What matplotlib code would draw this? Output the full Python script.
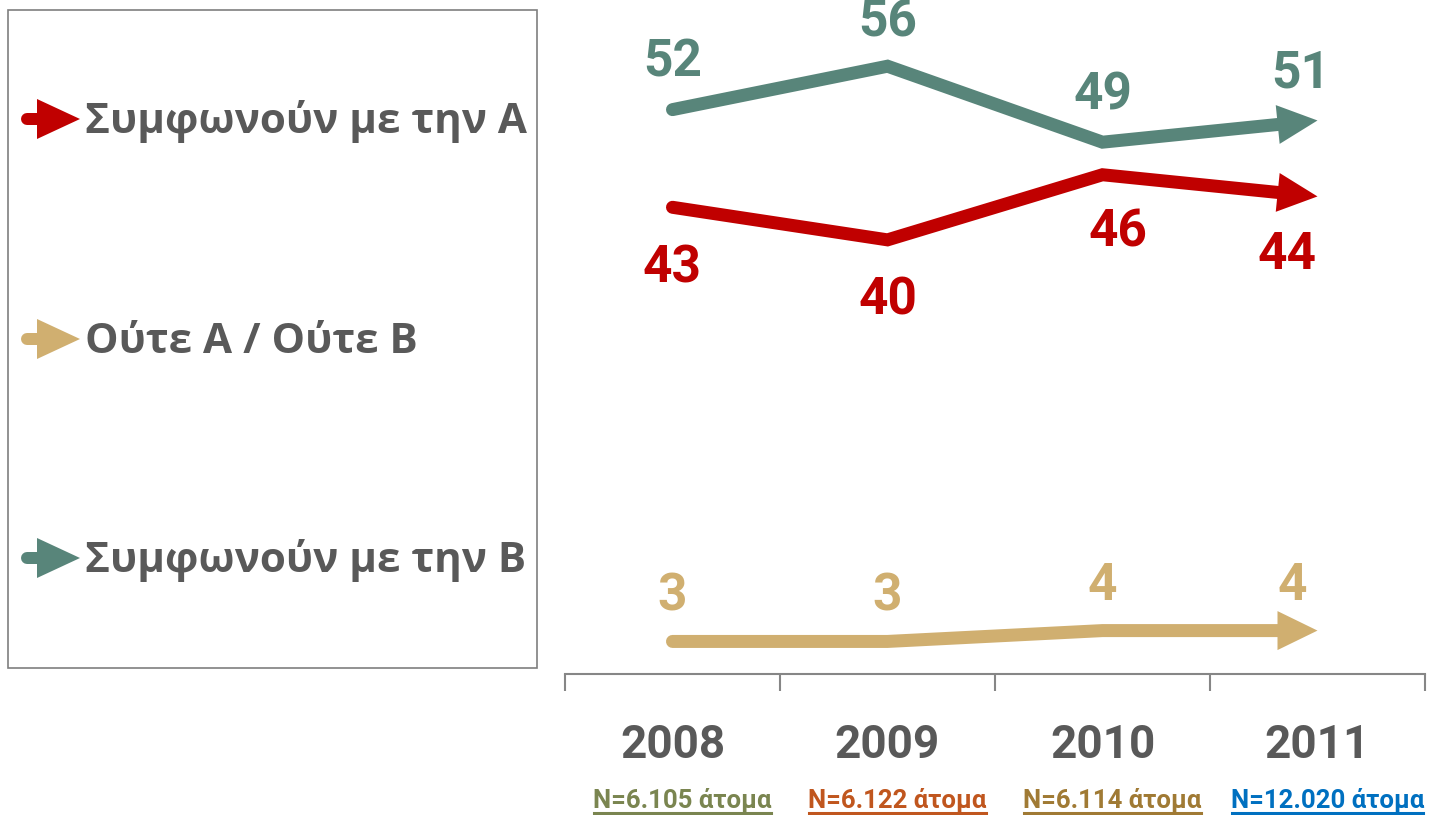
import matplotlib
matplotlib.use('Agg')
import matplotlib.pyplot as plt
from matplotlib.patches import Polygon, Rectangle
from matplotlib.lines import Line2D
import numpy as np


# Data
years = ['2008', '2009', '2010', '2011']
sample_sizes = ['N=6.105 άτομα', 'N=6.122 άτομα', 'N=6.114 άτομα', 'N=12.020 άτομα']
sample_colors = ['#7A8550', '#C0561E', '#A07A34', '#0070C0']

agree_a = [43, 40, 46, 44]
neither = [3, 3, 4, 4]
agree_b = [52, 56, 49, 51]

series_names = ['Συμφωνούν με την Α', 'Ούτε Α / Ούτε Β', 'Συμφωνούν με την Β']
series_colors = ['#C00000', '#D0AF70', '#58857A']

# Figure size (pixels)
W, H = 1429, 815
text_gray = '#595959'
num_font = ['Roboto', 'DejaVu Sans']
leg_font = ['Open Sans', 'DejaVu Sans']


def fig_xy(x, y):
    # pixel position (from top-left) -> figure fraction
    return x / W, 1 - y / H


fig = plt.figure(figsize=(W / 100, H / 100), dpi=100)

# Main axes: x from 565 to 1425 px, y axis line at 674 px
ax = fig.add_axes([565 / W, (H - 674) / H, 860 / W, 674 / H])
ax.set_xlim(-0.5, 3.5)
ax.set_ylim(0, 62.1)
for s in ['top', 'left', 'right']:
    ax.spines[s].set_visible(False)
ax.spines['bottom'].set_color('#868686')
ax.spines['bottom'].set_linewidth(1.5)
ax.set_yticks([])
ax.set_xticks(np.arange(-0.5, 4, 1))
ax.set_xticklabels([])
ax.tick_params(axis='x', direction='out', length=12, width=1.5, color='#868686')
ax.patch.set_visible(False)

x = np.arange(len(years))
lw_px = 13
head_len = 40
head_w = 39

for vals, color in [(agree_b, series_colors[2]), (agree_a, series_colors[0]), (neither, series_colors[1])]:
    pts = ax.transData.transform(np.column_stack([x, vals]))
    tip = pts[-1]
    d = pts[-1] - pts[-2]
    d = d / np.hypot(*d)
    n = np.array([-d[1], d[0]])
    base = tip - d * head_len
    shaft_end = tip - d * head_len * 0.6
    inv = ax.transData.inverted()
    se = inv.transform(shaft_end)
    ax.plot(list(x[:-1]) + [se[0]], list(vals[:-1]) + [se[1]], color=color,
            lw=lw_px * 0.72, solid_capstyle='round', solid_joinstyle='miter', clip_on=False)
    head = inv.transform(np.array([tip, base + n * head_w / 2, base - n * head_w / 2]))
    ax.add_patch(Polygon(head, closed=True, facecolor=color, edgecolor='none', clip_on=False))

# Data labels (pixel offsets of the baseline)
label_specs = [
    (agree_b, series_colors[2], [33, 30, 33, 33], [0, 0, 0, -17]),
    (agree_a, series_colors[0], [-75, -75, -72, -73], [0, 0, 15, -30]),
    (neither, series_colors[1], [31, 31, 31, 31], [0, 0, 0, -25]),
]
for vals, color, dys, dxs in label_specs:
    for i, v in enumerate(vals):
        ax.annotate(str(v), xy=(i, v), xytext=(dxs[i], dys[i]), textcoords='offset pixels',
                    ha='center', va='baseline', fontsize=37, fontweight='bold',
                    color=color, family=num_font, annotation_clip=False)

# Year labels and sample sizes
n_texts = []
for i, yr in enumerate(years):
    ax.annotate(yr, xy=(i, 0), xycoords=('data', 'axes fraction'), xytext=(0, -84),
                textcoords='offset pixels', ha='center', va='baseline', fontsize=33,
                fontweight='bold', color=text_gray, family=num_font, annotation_clip=False)
    t = ax.annotate(sample_sizes[i], xy=(i, 0), xycoords=('data', 'axes fraction'),
                    xytext=(10, -134), textcoords='offset pixels', ha='center', va='baseline',
                    fontsize=18.5, fontweight='bold', color=sample_colors[i], family=num_font,
                    annotation_clip=False)
    n_texts.append(t)

# Legend box
x0, y0 = fig_xy(8, 668)
x1, y1 = fig_xy(537, 10)
fig.add_artist(Rectangle((x0, y0), x1 - x0, y1 - y0, transform=fig.transFigure,
                         facecolor='none', edgecolor='#7F7F7F', lw=1.2))

leg_y = [119, 339, 558]
leg_base = [133, 353, 572]
for name, color, yc, yb in zip(series_names, series_colors, leg_y, leg_base):
    p0 = fig_xy(27, yc)
    p1 = fig_xy(50, yc)
    fig.add_artist(Line2D([p0[0], p1[0]], [p0[1], p1[1]], transform=fig.transFigure,
                          color=color, lw=12 * 0.72, solid_capstyle='round'))
    tri = [fig_xy(37, yc - 20), fig_xy(80, yc), fig_xy(37, yc + 20)]
    fig.add_artist(Polygon(tri, closed=True, transform=fig.transFigure,
                           facecolor=color, edgecolor='none'))
    tx, ty = fig_xy(85, yb)
    fig.text(tx, ty, name, ha='left', va='baseline', fontsize=30.3, fontweight='bold',
             color=text_gray, family=leg_font)

# Underline the sample size labels
fig.canvas.draw()
renderer = fig.canvas.get_renderer()
for t, c in zip(n_texts, sample_colors):
    bb = t.get_window_extent(renderer)
    ul = (bb.x0 + 1, bb.x1 - 1)
    fig.add_artist(Line2D([ul[0] / W, ul[1] / W], [(H - 813) / H, (H - 813) / H],
                          transform=fig.transFigure, color=c, lw=2.2))

fig.savefig('out.png', dpi=100)
